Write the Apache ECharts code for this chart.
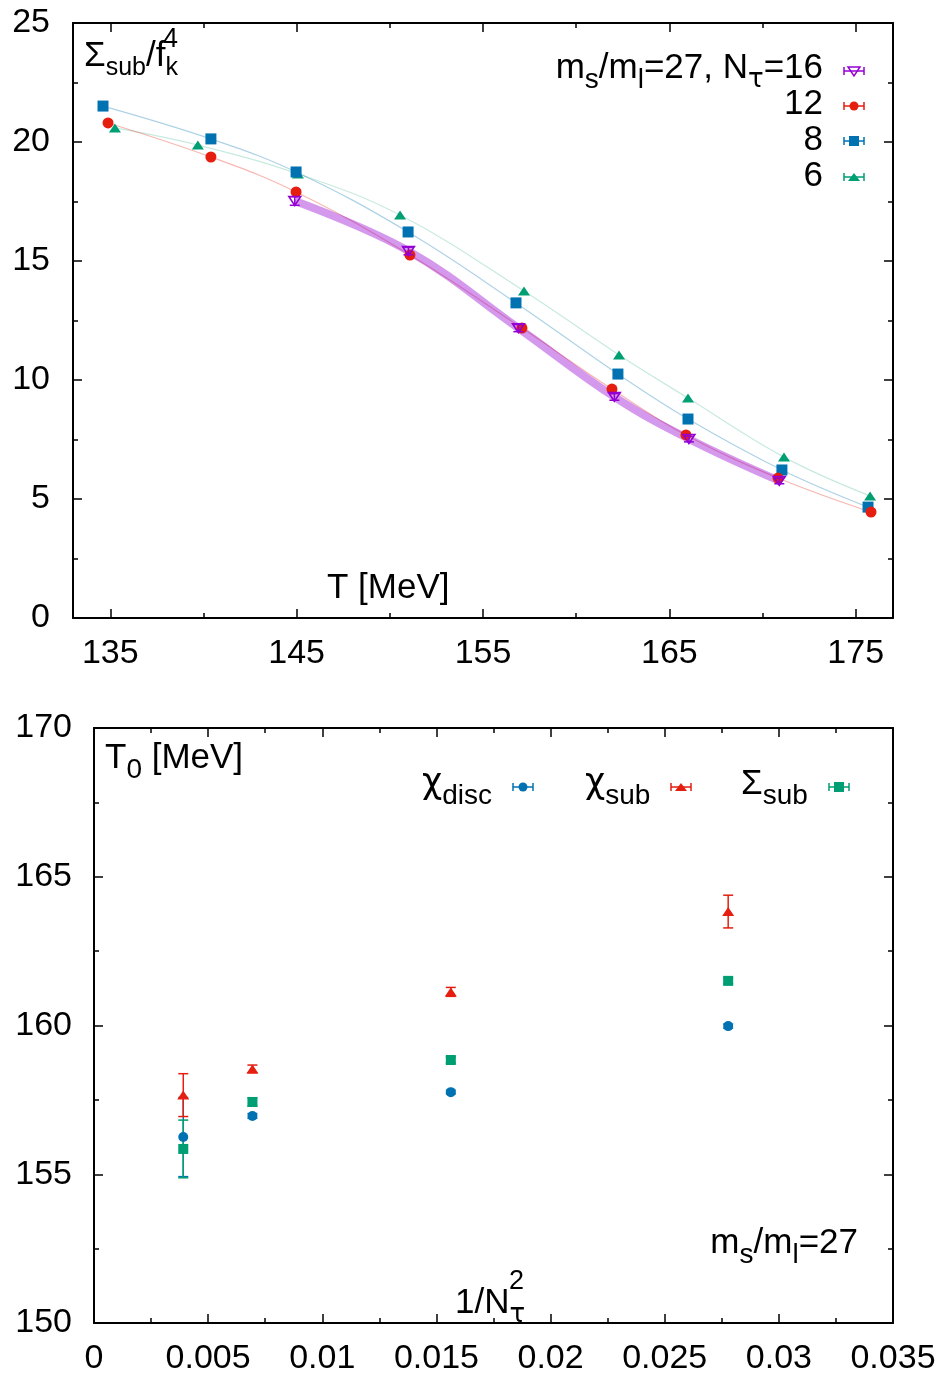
<!DOCTYPE html>
<html>
<head>
<meta charset="utf-8">
<script src="https://cdn.jsdelivr.net/npm/echarts@6/dist/echarts.min.js"></script>
<style>
html, body { margin: 0; padding: 0; background: #fff; }
#chart { width: 948px; height: 1379px; }
</style>
</head>
<body>
<div id="chart"></div>
<script>
// upper panel: Sigma_sub / f_K^4 against T [MeV]
const tNt16 = [144.9, 151.0, 156.9, 162.05, 166.05, 170.9]
const sNt16 = [17.52, 15.42, 12.18, 9.29, 7.52, 5.76]
const eNt16 = [0.18, 0.16, 0.15, 0.14, 0.12, 0.12]
const tNt12 = [134.88, 140.4, 144.97, 151.08, 157.09, 161.92, 165.89, 170.83, 175.82]
const sNt12 = [20.80, 19.37, 17.90, 15.25, 12.18, 9.62, 7.69, 5.88, 4.45]
const tNt8 = [134.61, 140.4, 144.97, 150.98, 156.77, 162.24, 166.0, 171.04, 175.66]
const sNt8 = [21.51, 20.13, 18.74, 16.22, 13.24, 10.25, 8.36, 6.22, 4.66]
const tNt6 = [135.25, 139.7, 145.07, 150.55, 157.2, 162.3, 166.0, 171.15, 175.77]
const sNt6 = [20.59, 19.87, 18.66, 16.93, 13.74, 11.05, 9.24, 6.76, 5.13]
const topTicksMajor = [135, 145, 155, 165, 175]
const topTicksMinor = [140, 150, 160, 170]

// lower panel: T0 [MeV] against 1/Ntau^2
const invNt2 = [0.00391, 0.00694, 0.01563, 0.02778]
const chiDisc = [156.25, 156.96, 157.76, 159.98]
const chiDiscErr = [1.33, 0.08, 0.06, 0.07]
const chiSub = [157.66, 158.54, 161.13, 163.83]
const chiSubErr = [0.72, 0.13, 0.15, 0.55]
const sigmaSub = [155.85, 157.43, 158.84, 161.5]
const sigmaSubErr = [0.97, 0.14, 0.1, 0.1]

const FONT = 'Liberation Sans, Arial, sans-serif'
const GREEK = 'DejaVu Sans, Liberation Sans, sans-serif'
const PURPLE = '#9400d3'
const RED = '#e51e10'
const BLUE = '#0072b2'
const GREEN = '#009e73'

const zip = (xs, ys, es) => xs.map((x, i) => es ? [x, ys[i], es[i]] : [x, ys[i]])

// frame axis (all four sides, ticks inward)
const axisBase = (extra) => Object.assign({
  type: 'value',
  axisLine: { onZero: false, lineStyle: { color: '#000', width: 2 } },
  axisTick: { inside: true, length: 9, lineStyle: { color: '#000', width: 1.5 } },
  minorTick: { show: false },
  axisLabel: { show: false },
  splitLine: { show: false }
}, extra)

const tickLabel = (margin) => ({
  show: true, fontSize: 34, fontFamily: FONT, color: '#000', margin: margin,
  showMinLabel: true, showMaxLabel: true
})

const minorTick = { show: true, splitNumber: 2, length: 5, lineStyle: { color: '#000', width: 1.5 } }

// error bars drawn through the axes
const errorBars = (color, cap) => (params, api) => {
  const x = api.value(0), y = api.value(1), e = api.value(2)
  const hi = api.coord([x, y + e])
  const lo = api.coord([x, y - e])
  const st = { stroke: color, lineWidth: 1.5 }
  return {
    type: 'group',
    children: [
      { type: 'line', shape: { x1: hi[0], y1: hi[1], x2: lo[0], y2: lo[1] }, style: st },
      { type: 'line', shape: { x1: hi[0] - cap, y1: hi[1], x2: hi[0] + cap, y2: hi[1] }, style: st },
      { type: 'line', shape: { x1: lo[0] - cap, y1: lo[1], x2: lo[0] + cap, y2: lo[1] }, style: st }
    ]
  }
}

const rich = {
  m: { fontSize: 35, fontFamily: FONT, color: '#000' },
  g: { fontSize: 35, fontFamily: GREEK, color: '#000' },
  s: { fontSize: 28, fontFamily: FONT, color: '#000', padding: [25, 0, 0, 0] },
  sg: { fontSize: 26, fontFamily: GREEK, color: '#000', padding: [25, 0, 0, 0] },
  t: { fontSize: 25, fontFamily: FONT, color: '#000', padding: [25, 0, 0, 0] }
}
const txt = (x, y, text, align) => ({
  type: 'text', x: x, y: y, z: 100,
  style: { text: text, rich: rich, align: align || 'left', verticalAlign: 'middle' }
})
const sup = (x, y, text) => ({
  type: 'text', x: x, y: y, z: 100,
  style: { text: text, fontSize: 27, fontFamily: FONT, fill: '#000', verticalAlign: 'middle' }
})

// key sample: horizontal error bar with the point symbol
const keySample = (cx, cy, color, shape) => {
  const st = { stroke: color, lineWidth: 1.5 }
  const kids = [
    { type: 'line', shape: { x1: cx - 10, y1: cy, x2: cx + 10, y2: cy }, style: st },
    { type: 'line', shape: { x1: cx - 10, y1: cy - 4, x2: cx - 10, y2: cy + 4 }, style: st },
    { type: 'line', shape: { x1: cx + 10, y1: cy - 4, x2: cx + 10, y2: cy + 4 }, style: st }
  ]
  if (shape === 'circle') kids.push({ type: 'circle', shape: { cx: cx, cy: cy, r: 4.5 }, style: { fill: color } })
  if (shape === 'rect') kids.push({ type: 'rect', shape: { x: cx - 5, y: cy - 5, width: 10, height: 10 }, style: { fill: color } })
  if (shape === 'tri') kids.push({ type: 'polygon', shape: { points: [[cx - 6, cy + 4], [cx + 6, cy + 4], [cx, cy - 4]] }, style: { fill: color } })
  if (shape === 'otri') kids.push({ type: 'polygon', shape: { points: [[cx - 6, cy - 4], [cx + 6, cy - 4], [cx, cy + 5]] }, style: { fill: 'none', stroke: color, lineWidth: 1.5 } })
  return { type: 'group', z: 100, children: kids }
}

const chart = echarts.init(document.getElementById('chart'))

const option = {
  backgroundColor: '#fff',
  animation: false,
  grid: [
    { left: 73, top: 23, width: 820, height: 595 },
    { left: 94, top: 728, width: 799, height: 595 }
  ],
  xAxis: [
    axisBase({ gridIndex: 0, position: 'bottom', min: 133, max: 177,
      axisTick: { inside: true, length: 9, customValues: topTicksMajor, lineStyle: { color: '#000', width: 1.5 } },
      axisLabel: Object.assign(tickLabel(19), { customValues: topTicksMajor }) }),
    axisBase({ gridIndex: 0, position: 'top', min: 133, max: 177,
      axisTick: { inside: true, length: 9, customValues: topTicksMajor, lineStyle: { color: '#000', width: 1.5 } } }),
    axisBase({ gridIndex: 0, position: 'bottom', min: 133, max: 177, axisLine: { show: false, onZero: false },
      axisTick: { inside: true, length: 5, customValues: topTicksMinor, lineStyle: { color: '#000', width: 1.5 } } }),
    axisBase({ gridIndex: 0, position: 'top', min: 133, max: 177, axisLine: { show: false, onZero: false },
      axisTick: { inside: true, length: 5, customValues: topTicksMinor, lineStyle: { color: '#000', width: 1.5 } } }),
    axisBase({ gridIndex: 1, position: 'bottom', min: 0, max: 0.035, interval: 0.005,
      minorTick: minorTick, axisLabel: tickLabel(19) }),
    axisBase({ gridIndex: 1, position: 'top', min: 0, max: 0.035, interval: 0.005, minorTick: minorTick })
  ],
  yAxis: [
    axisBase({ gridIndex: 0, position: 'left', min: 0, max: 25, interval: 5,
      minorTick: minorTick, axisLabel: tickLabel(23) }),
    axisBase({ gridIndex: 0, position: 'right', min: 0, max: 25, interval: 5, minorTick: minorTick }),
    axisBase({ gridIndex: 1, position: 'left', min: 150, max: 170, interval: 5,
      minorTick: minorTick, axisLabel: tickLabel(22) }),
    axisBase({ gridIndex: 1, position: 'right', min: 150, max: 170, interval: 5, minorTick: minorTick })
  ],
  series: [
    // guiding curves
    { type: 'line', xAxisIndex: 0, yAxisIndex: 0, data: zip(tNt6, sNt6), smooth: 0.4, showSymbol: false,
      lineStyle: { color: 'rgba(0,158,115,0.22)', width: 1.2 }, z: 1 },
    { type: 'line', xAxisIndex: 0, yAxisIndex: 0, data: zip(tNt8, sNt8), smooth: 0.4, showSymbol: false,
      lineStyle: { color: 'rgba(0,114,178,0.32)', width: 1.2 }, z: 1 },
    { type: 'line', xAxisIndex: 0, yAxisIndex: 0, data: zip(tNt12, sNt12), smooth: 0.4, showSymbol: false,
      lineStyle: { color: 'rgba(229,30,16,0.32)', width: 1.2 }, z: 1 },
    { type: 'line', xAxisIndex: 0, yAxisIndex: 0, data: zip(tNt16, sNt16), smooth: 0.4, showSymbol: false,
      lineStyle: { color: 'rgba(148,0,211,0.4)', width: 8 }, z: 2 },
    // points
    { type: 'scatter', xAxisIndex: 0, yAxisIndex: 0, data: zip(tNt6, sNt6), symbol: 'triangle', symbolSize: [12, 9],
      itemStyle: { color: GREEN, opacity: 1 }, z: 5 },
    { type: 'scatter', xAxisIndex: 0, yAxisIndex: 0, data: zip(tNt8, sNt8), symbol: 'rect', symbolSize: 11,
      itemStyle: { color: BLUE, opacity: 1 }, z: 5 },
    { type: 'scatter', xAxisIndex: 0, yAxisIndex: 0, data: zip(tNt12, sNt12), symbol: 'circle', symbolSize: 11,
      itemStyle: { color: RED, opacity: 1 }, z: 5 },
    { type: 'custom', xAxisIndex: 0, yAxisIndex: 0, data: zip(tNt16, sNt16, eNt16), renderItem: errorBars(PURPLE, 5),
      encode: { x: 0, y: 1 }, z: 6 },
    { type: 'scatter', xAxisIndex: 0, yAxisIndex: 0, data: zip(tNt16, sNt16), symbol: 'triangle', symbolRotate: 180,
      symbolSize: [12, 9], itemStyle: { color: 'rgba(0,0,0,0)', borderColor: PURPLE, borderWidth: 1.5, opacity: 1 }, z: 6 },

    // lower panel
    { type: 'custom', xAxisIndex: 4, yAxisIndex: 2, data: zip(invNt2, chiDisc, chiDiscErr), renderItem: errorBars(BLUE, 5),
      encode: { x: 0, y: 1 }, z: 4 },
    { type: 'custom', xAxisIndex: 4, yAxisIndex: 2, data: zip(invNt2, sigmaSub, sigmaSubErr), renderItem: errorBars(GREEN, 5),
      encode: { x: 0, y: 1 }, z: 4 },
    { type: 'custom', xAxisIndex: 4, yAxisIndex: 2, data: zip(invNt2, chiSub, chiSubErr), renderItem: errorBars(RED, 5),
      encode: { x: 0, y: 1 }, z: 4 },
    { type: 'scatter', xAxisIndex: 4, yAxisIndex: 2, data: zip(invNt2, chiDisc), symbol: 'circle', symbolSize: 10,
      itemStyle: { color: BLUE, opacity: 1 }, z: 5 },
    { type: 'scatter', xAxisIndex: 4, yAxisIndex: 2, data: zip(invNt2, sigmaSub), symbol: 'rect', symbolSize: 10,
      itemStyle: { color: GREEN, opacity: 1 }, z: 5 },
    { type: 'scatter', xAxisIndex: 4, yAxisIndex: 2, data: zip(invNt2, chiSub), symbol: 'triangle', symbolSize: [12, 9],
      itemStyle: { color: RED, opacity: 1 }, z: 5 }
  ],
  graphic: [
    // upper panel labels
    txt(84, 56, '{m|Σ}{t|sub}{m|/f}{t|k}'),
    sup(163, 40, '4'),
    txt(327, 588, '{m|T [MeV]}'),
    txt(823, 68, '{m|m}{s|s}{m|/m}{s|l}{m|=27, N}{sg|τ}{m|=16}', 'right'),
    txt(823, 104, '{m|12}', 'right'),
    txt(823, 140, '{m|8}', 'right'),
    txt(823, 176, '{m|6}', 'right'),
    keySample(854, 71, PURPLE, 'otri'),
    keySample(854, 106, RED, 'circle'),
    keySample(854, 141, BLUE, 'rect'),
    keySample(854, 177, GREEN, 'tri'),
    // lower panel labels
    txt(105, 758, '{m|T}{s|0}{m| [MeV]}'),
    txt(422, 784, '{g|χ}{s|disc}'),
    txt(585, 784, '{g|χ}{s|sub}'),
    txt(741, 784, '{m|Σ}{s|sub}'),
    keySample(523, 787, BLUE, 'circle'),
    keySample(681, 787, RED, 'tri'),
    keySample(839, 787, GREEN, 'rect'),
    txt(858, 1243, '{m|m}{s|s}{m|/m}{s|l}{m|=27}', 'right'),
    txt(455, 1303, '{m|1/N}{sg|τ}'),
    sup(509, 1282, '2')
  ]
}

chart.setOption(option)
</script>
</body>
</html>
